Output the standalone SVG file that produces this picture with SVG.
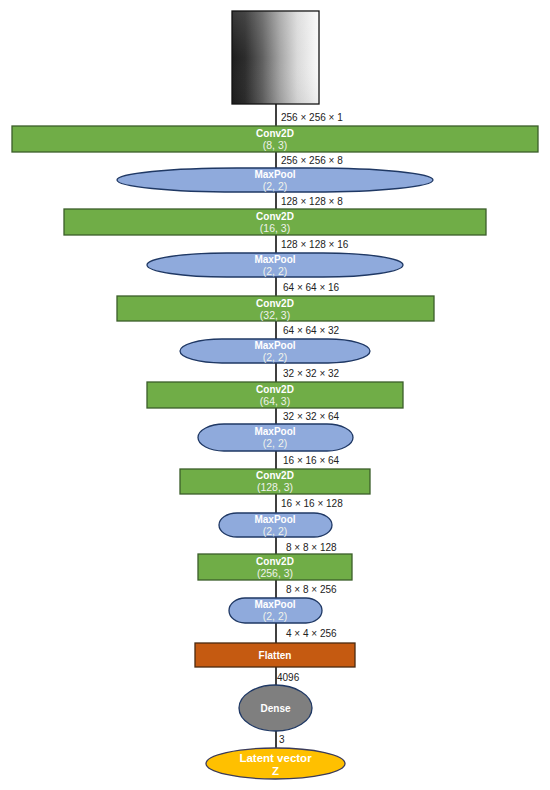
<svg xmlns="http://www.w3.org/2000/svg" width="550" height="790" viewBox="0 0 550 790">
<defs>
<linearGradient id="img" x1="0" y1="0" x2="1" y2="0">
<stop offset="0" stop-color="#1e1e1e"/>
<stop offset="0.15" stop-color="#2c2c2c"/>
<stop offset="0.35" stop-color="#606060"/>
<stop offset="0.55" stop-color="#a4a4a4"/>
<stop offset="0.75" stop-color="#dadada"/>
<stop offset="1" stop-color="#fafafa"/>
</linearGradient>
<linearGradient id="imgv" x1="0" y1="0" x2="0" y2="1">
<stop offset="0" stop-color="#fff" stop-opacity="0.12"/>
<stop offset="0.5" stop-color="#fff" stop-opacity="0"/>
<stop offset="1" stop-color="#000" stop-opacity="0.05"/>
</linearGradient>
<style>
.conv{fill:#70ad47;stroke:#3b5e2a;stroke-width:1.3}
.pool{fill:#8faadc;stroke:#1f3864;stroke-width:1.3}
.flat{fill:#c55a11;stroke:#4a2a10;stroke-width:1.3}
.dense{fill:#7f7f7f;stroke:#1f3864;stroke-width:1.3}
.lat{fill:#ffc000;stroke:#3b3b5a;stroke-width:1.3}
.t1{font-family:"Liberation Sans",Arial,sans-serif;font-size:10px;font-weight:bold;fill:#fff;text-anchor:middle}
.t2{font-family:"Liberation Sans",Arial,sans-serif;font-size:10.5px;fill:#eef2ea;text-anchor:middle}
.lbl{font-family:"Liberation Sans",Arial,sans-serif;font-size:10px;fill:#222}
.conn line{stroke:#000;stroke-width:1.5}
</style>
</defs>
<rect width="550" height="790" fill="#fff"/>
<g class="conn">
<line x1="276" y1="104" x2="276" y2="126"/>
<line x1="276" y1="152" x2="276" y2="168"/>
<line x1="276" y1="192" x2="276" y2="209"/>
<line x1="276" y1="235" x2="276" y2="253"/>
<line x1="276" y1="277" x2="276" y2="296"/>
<line x1="276" y1="321" x2="276" y2="339"/>
<line x1="276" y1="363" x2="276" y2="382"/>
<line x1="276" y1="408" x2="276" y2="424"/>
<line x1="276" y1="451" x2="276" y2="469"/>
<line x1="276" y1="494" x2="276" y2="513"/>
<line x1="276" y1="537" x2="276" y2="554"/>
<line x1="276" y1="580" x2="276" y2="598"/>
<line x1="276" y1="623" x2="276" y2="643"/>
<line x1="276" y1="667" x2="276" y2="685"/>
<line x1="276" y1="731" x2="276" y2="748"/>
</g>
<g class="lbl">
<text x="281" y="121">256 × 256 × 1</text>
<text x="281" y="164">256 × 256 × 8</text>
<text x="281" y="205">128 × 128 × 8</text>
<text x="281" y="248">128 × 128 × 16</text>
<text x="283" y="291">64 × 64 × 16</text>
<text x="283" y="334">64 × 64 × 32</text>
<text x="283" y="377">32 × 32 × 32</text>
<text x="283" y="420">32 × 32 × 64</text>
<text x="283" y="464">16 × 16 × 64</text>
<text x="281" y="507">16 × 16 × 128</text>
<text x="286" y="551">8 × 8 × 128</text>
<text x="286" y="593">8 × 8 × 256</text>
<text x="286" y="637">4 × 4 × 256</text>
<text x="277" y="681">4096</text>
<text x="279" y="743">3</text>
</g>
<g id="input">
<rect x="232" y="11" width="87" height="93" fill="url(#img)" stroke="#111" stroke-width="1.3"/>
<rect x="232.7" y="11.7" width="85.6" height="91.6" fill="url(#imgv)"/>
</g>
<g id="conv1"><rect class="conv" x="12" y="126" width="526" height="26"/><text class="t1" x="275" y="137">Conv2D</text><text class="t2" x="275" y="149">(8, 3)</text></g>
<g id="pool1"><rect class="pool" x="117" y="168" width="316" height="24" rx="120" ry="12"/><text class="t1" x="275" y="178">MaxPool</text><text class="t2" x="275" y="190">(2, 2)</text></g>
<g id="conv2"><rect class="conv" x="64" y="209" width="422" height="26"/><text class="t1" x="275" y="220">Conv2D</text><text class="t2" x="275" y="232">(16, 3)</text></g>
<g id="pool2"><rect class="pool" x="147" y="253" width="256" height="24" rx="80" ry="12"/><text class="t1" x="275" y="263">MaxPool</text><text class="t2" x="275" y="275">(2, 2)</text></g>
<g id="conv3"><rect class="conv" x="117" y="296" width="317" height="25"/><text class="t1" x="275" y="307">Conv2D</text><text class="t2" x="275" y="319">(32, 3)</text></g>
<g id="pool3"><rect class="pool" x="180" y="339" width="190" height="24" rx="42" ry="12"/><text class="t1" x="275" y="349">MaxPool</text><text class="t2" x="275" y="361">(2, 2)</text></g>
<g id="conv4"><rect class="conv" x="147" y="382" width="256" height="26"/><text class="t1" x="275" y="393">Conv2D</text><text class="t2" x="275" y="405">(64, 3)</text></g>
<g id="pool4"><rect class="pool" x="198" y="424" width="155" height="27" rx="26" ry="13.5"/><text class="t1" x="275" y="435">MaxPool</text><text class="t2" x="275" y="447">(2, 2)</text></g>
<g id="conv5"><rect class="conv" x="180" y="469" width="190" height="25"/><text class="t1" x="275" y="479">Conv2D</text><text class="t2" x="275" y="491">(128, 3)</text></g>
<g id="pool5"><rect class="pool" x="219" y="513" width="113" height="24" rx="18" ry="12"/><text class="t1" x="275" y="523">MaxPool</text><text class="t2" x="275" y="535">(2, 2)</text></g>
<g id="conv6"><rect class="conv" x="198" y="554" width="154" height="26"/><text class="t1" x="275" y="565">Conv2D</text><text class="t2" x="275" y="577">(256, 3)</text></g>
<g id="pool6"><rect class="pool" x="229" y="598" width="93" height="25" rx="16" ry="12.5"/><text class="t1" x="275" y="608">MaxPool</text><text class="t2" x="275" y="620">(2, 2)</text></g>
<g id="flatten"><rect class="flat" x="195" y="643" width="160" height="24"/><text class="t1" x="275" y="659">Flatten</text></g>
<g id="dense"><ellipse class="dense" cx="275.5" cy="708" rx="36.5" ry="23"/><text class="t1" x="275.5" y="711.5">Dense</text></g>
<g id="latent"><ellipse class="lat" cx="275.5" cy="763.5" rx="69.5" ry="15.5"/><text class="t1" x="275.5" y="762" style="font-size:11.5px">Latent vector</text><text class="t1" x="275.5" y="775" style="font-size:11.5px">Z</text></g>
</svg>
